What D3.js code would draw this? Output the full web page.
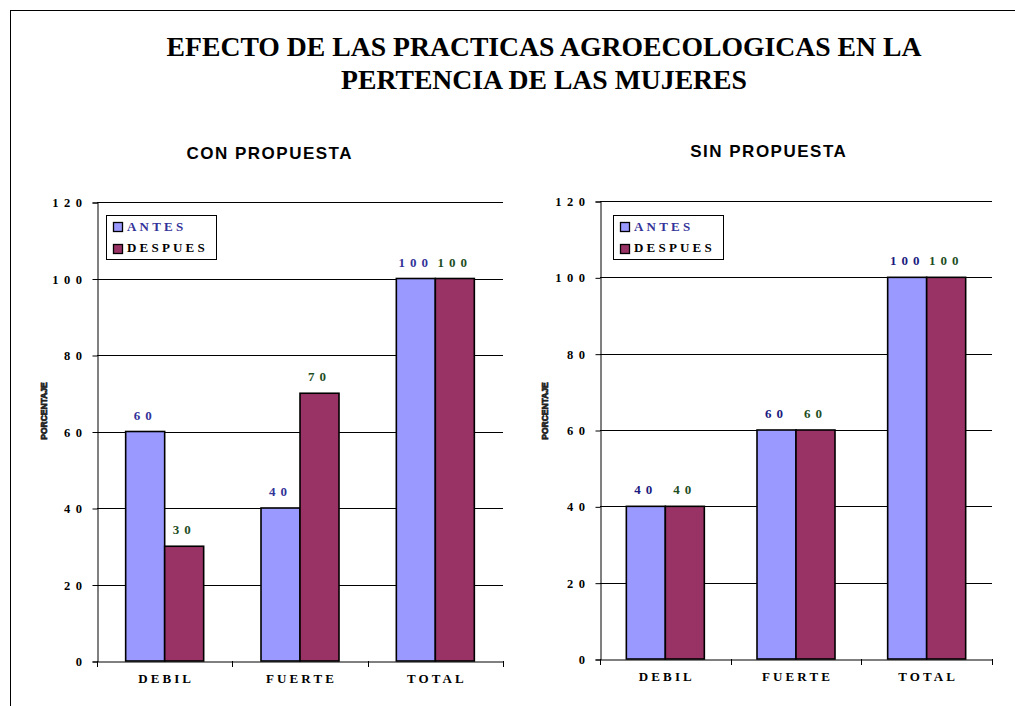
<!DOCTYPE html>
<html>
<head>
<meta charset="utf-8">
<script src="https://cdn.jsdelivr.net/npm/d3@7"></script>
<style>
body { margin: 0; background: #fff; }
svg { display: block; }
</style>
</head>
<body>
<svg id="chart" width="1015" height="706"></svg>
<script>
// values
var categories = ["DEBIL", "FUERTE", "TOTAL"];
var seriesNames = ["ANTES", "DESPUES"];
var conAntes = [60, 40, 100];
var conDespues = [30, 70, 100];
var sinAntes = [40, 60, 100];
var sinDespues = [40, 60, 100];
var yTicks = [0, 20, 40, 60, 80, 100, 120];

var barColors = ["#9999FF", "#993366"];
var serif = "'Liberation Serif', 'Times New Roman', Times, serif";
var sans = "'Liberation Sans', Arial, Helvetica, sans-serif";

var svg = d3.select("#chart");

// outer frame
svg.append("rect")
    .attr("x", 10.5).attr("y", 10.5)
    .attr("width", 1010).attr("height", 700)
    .attr("fill", "none").attr("stroke", "#000").attr("stroke-width", 1);

// main title
var title = svg.append("text")
    .attr("text-anchor", "middle")
    .style("font-family", serif)
    .style("font-weight", "bold")
    .style("font-size", "27.7px");
title.append("tspan").attr("x", 544).attr("y", 56).text("EFECTO DE LAS PRACTICAS AGROECOLOGICAS EN LA");
title.append("tspan").attr("x", 544).attr("y", 89).text("PERTENCIA DE LAS MUJERES");

function drawPanel(opts) {
    var g = svg.append("g");
    var x = d3.scaleBand().domain(categories).range([opts.left, opts.right]);
    var x1 = d3.scaleBand().domain(seriesNames).range([0, 78]);
    var y = d3.scaleLinear().domain([0, 120]).range([opts.bottom, opts.top]);

    // subtitle
    g.append("text")
        .attr("x", opts.subX + 0.75).attr("y", opts.subY)
        .attr("text-anchor", "middle")
        .style("font-family", sans)
        .style("font-weight", "bold")
        .style("font-size", "17px")
        .style("letter-spacing", "1.5px")
        .text(opts.subtitle);

    // gridlines
    g.selectAll(".grid")
        .data(yTicks.filter(function(d) { return d > 0; }))
        .enter().append("line")
        .attr("x1", opts.left).attr("x2", opts.right)
        .attr("y1", function(d) { return Math.round(y(d)) + 0.5; })
        .attr("y2", function(d) { return Math.round(y(d)) + 0.5; })
        .attr("stroke", "#000").attr("stroke-width", 1);

    // y axis
    var yAxis = g.append("g")
        .attr("transform", "translate(" + (opts.left + 0.5) + ",0.5)")
        .call(d3.axisLeft(y).tickValues(yTicks).tickSize(5).tickPadding(8)
            .tickFormat(function(d) { return d; }));
    yAxis.select(".domain").attr("stroke", "#000");
    yAxis.selectAll("text")
        .style("font-family", serif)
        .style("font-weight", "bold")
        .style("font-size", "12.5px")
        .style("letter-spacing", "5.5px")
        .attr("dx", 3)
        .attr("fill", "#000");

    // x axis
    var xAxis = g.append("g")
        .attr("transform", "translate(0," + (Math.round(opts.bottom) + 0.5) + ")")
        .call(d3.axisBottom(x).tickSize(0).tickPadding(12));
    xAxis.select(".domain").attr("stroke", "#000");
    xAxis.selectAll("text")
        .style("font-family", serif)
        .style("font-weight", "bold")
        .style("font-size", "13px")
        .style("letter-spacing", "3.1px")
        .attr("dx", 1.5)
        .attr("fill", "#000");
    // tick marks between categories
    var bounds = [opts.left].concat(categories.map(function(c) { return x(c) + x.bandwidth(); }));
    g.selectAll(".xtick")
        .data(bounds)
        .enter().append("line")
        .attr("x1", function(d) { return Math.round(d) + 0.5; })
        .attr("x2", function(d) { return Math.round(d) + 0.5; })
        .attr("y1", opts.bottom).attr("y2", opts.bottom + 6)
        .attr("stroke", "#000");

    // bars
    var rows = categories.map(function(c, i) {
        return { cat: c, vals: [opts.antes[i], opts.despues[i]] };
    });
    var groups = g.selectAll(".grp")
        .data(rows)
        .enter().append("g")
        .attr("transform", function(d) {
            return "translate(" + (x(d.cat) + (x.bandwidth() - 78) / 2) + ",0)";
        });
    groups.selectAll("rect")
        .data(function(d) { return d.vals.map(function(v, i) { return { s: seriesNames[i], v: v, i: i }; }); })
        .enter().append("rect")
        .attr("x", function(d) { return x1(d.s); })
        .attr("y", function(d) { return y(d.v); })
        .attr("width", x1.bandwidth())
        .attr("height", function(d) { return y(0) - y(d.v); })
        .attr("fill", function(d) { return barColors[d.i]; })
        .attr("stroke", "#000").attr("stroke-width", 1.6);

    // value labels
    groups.selectAll(".val")
        .data(function(d) { return d.vals.map(function(v, i) { return { s: seriesNames[i], v: v, i: i }; }); })
        .enter().append("text")
        .attr("x", function(d) { return x1(d.s) + x1.bandwidth() / 2; })
        .attr("y", function(d) { return y(d.v) - 12; })
        .attr("text-anchor", "middle")
        .style("font-family", serif)
        .style("font-weight", "bold")
        .style("font-size", "13px")
        .style("letter-spacing", "5px")
        .attr("fill", function(d) { return d.i === 0 ? opts.antesLabel : "#1E4D1E"; })
        .text(function(d) { return d.v; });

    // y title
    g.append("text")
        .attr("transform", "translate(" + opts.yTitleX + "," + opts.yTitleY + ") rotate(-90)")
        .attr("text-anchor", "middle")
        .style("font-family", sans)
        .style("font-weight", "bold")
        .style("font-size", "8.5px")
        .attr("fill", "#222")
        .attr("stroke", "#222").attr("stroke-width", 0.7)
        .text("PORCENTAJE");

    // legend
    var lg = g.append("g").attr("transform", "translate(" + opts.legX + "," + opts.legY + ")");
    lg.append("rect")
        .attr("x", 0.5).attr("y", 0.5).attr("width", 110).attr("height", 44)
        .attr("fill", "#fff").attr("stroke", "#000").attr("stroke-width", 1);
    seriesNames.forEach(function(name, i) {
        lg.append("rect")
            .attr("x", 7.5).attr("y", 7.5 + i * 22)
            .attr("width", 9).attr("height", 9)
            .attr("fill", barColors[i]).attr("stroke", "#000").attr("stroke-width", 1.3);
        lg.append("text")
            .attr("x", 21).attr("y", 16 + i * 21)
            .style("font-family", serif)
            .style("font-weight", "bold")
            .style("font-size", "13px")
            .style("letter-spacing", "3.2px")
            .attr("fill", i === 0 ? "#333399" : "#000")
            .text(name);
    });
}

drawPanel({
    subtitle: "CON PROPUESTA", subX: 269, subY: 159,
    left: 97, right: 503, top: 202, bottom: 661,
    antes: conAntes, despues: conDespues, antesLabel: "#333399",
    yTitleX: 47, yTitleY: 411, legX: 106, legY: 215
});

drawPanel({
    subtitle: "SIN PROPUESTA", subX: 768, subY: 157,
    left: 600, right: 992, top: 201, bottom: 659,
    antes: sinAntes, despues: sinDespues, antesLabel: "#1A1A80",
    yTitleX: 548, yTitleY: 411, legX: 613, legY: 215
});
</script>
</body>
</html>
